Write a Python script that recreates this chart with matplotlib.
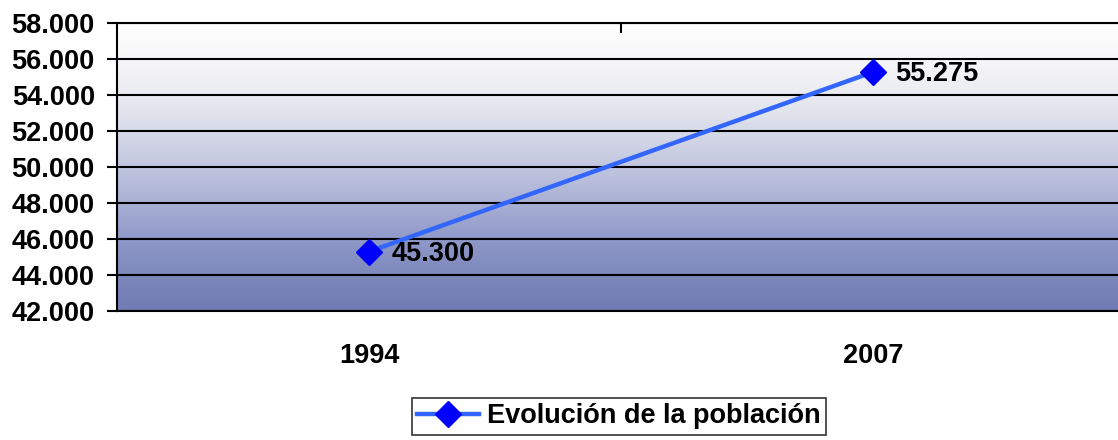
import numpy as np
import matplotlib.pyplot as plt
from matplotlib.colors import LinearSegmentedColormap

# data
years = ['1994', '2007']
poblacion = [45300, 55275]
value_labels = ['45.300', '55.275']
y_ticks = [42000, 44000, 46000, 48000, 50000, 52000, 54000, 56000, 58000]
y_tick_labels = ['42.000', '44.000', '46.000', '48.000', '50.000',
                 '52.000', '54.000', '56.000', '58.000']
serie = 'Evolución de la población'

plt.rcParams['font.family'] = ['Liberation Sans', 'DejaVu Sans']
plt.rcParams['font.weight'] = 'bold'
fs = 19.5

fig = plt.figure(figsize=(11.18, 4.4), dpi=100)
# axes runs past the right edge like in the original
ax = fig.add_axes([117 / 1118, 1 - 311 / 440, (1125 - 117) / 1118, 288 / 440])

# gradient background, white at top -> blue-grey at bottom
cmap = LinearSegmentedColormap.from_list('bg', [
    (0.0, '#6f7db4'), (0.125, '#7d88bc'), (0.25, '#9099c8'),
    (0.375, '#a9b0d4'), (0.5, '#c1c6df'), (0.625, '#d7dae8'),
    (0.75, '#eaebf1'), (0.875, '#f7f7f9'), (1.0, '#ffffff')])
grad = np.linspace(0, 1, 256).reshape(-1, 1)
ax.imshow(grad, cmap=cmap, origin='lower', aspect='auto',
          extent=[0, 1, 0, 1], transform=ax.transAxes, zorder=0)

x = np.arange(len(years))
ax.plot(x, poblacion, color='#3366ff', lw=3.2, marker='D', ms=13.5,
        mfc='#0000ff', mec='#0000ff', label=serie, zorder=3)
for xi, yi, lab in zip(x, poblacion, value_labels):
    ax.annotate(lab, (xi, yi), xytext=(16, -1.5), textcoords='offset points',
                va='center', ha='left', fontsize=fs, fontweight='bold')

ax.set_xlim(-0.5, 1.5)
ax.set_ylim(42000, 58000)
ax.set_yticks(y_ticks)
ax.set_yticklabels(y_tick_labels, fontsize=fs, fontweight='bold')
ax.set_xticks(x)
ax.set_xticklabels(years, fontsize=fs, fontweight='bold')
ax.set_xticks([0.5], minor=True)
ax.tick_params(axis='y', direction='out', length=7, width=1.5, pad=9)
ax.tick_params(axis='x', which='major', length=0, pad=23)
ax.tick_params(axis='x', which='minor', bottom=False, top=True,
               direction='in', length=7, width=1.5)

ax.grid(axis='y', color='black', lw=1.5, zorder=1)
ax.set_axisbelow(False)
for s in ax.spines.values():
    s.set_linewidth(1.5)
    s.set_color('black')

leg = ax.legend(loc='upper center', bbox_to_anchor=(619 / 1118, 1 - 398 / 440),
                bbox_transform=fig.transFigure, fontsize=fs, frameon=True,
                fancybox=False, handlelength=2.3, handletextpad=0.3,
                borderpad=0.2, borderaxespad=0)
leg.get_frame().set_edgecolor('black')
leg.get_frame().set_linewidth(1.2)
for t in leg.get_texts():
    t.set_fontweight('bold')

fig.savefig('out.png', dpi=100)
